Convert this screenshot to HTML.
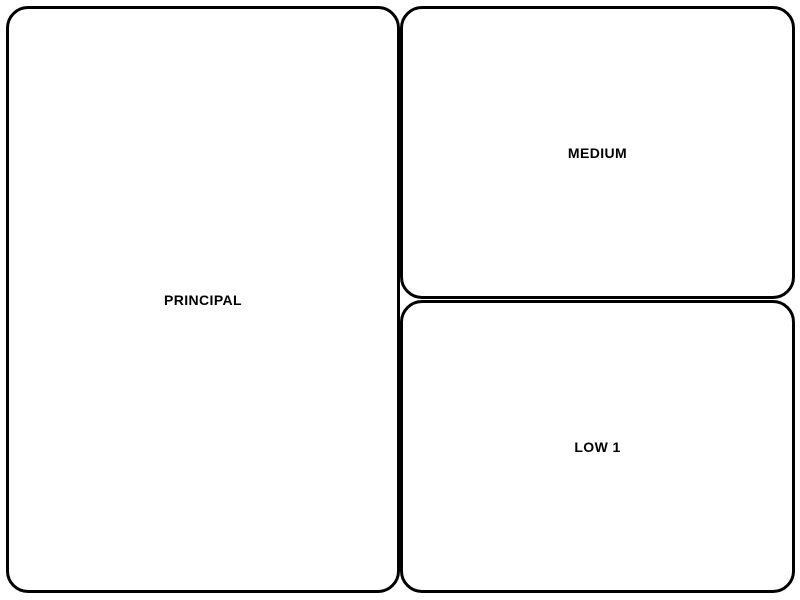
<!DOCTYPE html>
<html><head><style>
body{margin:0;width:800px;height:600px;background:#fff;position:relative;overflow:hidden;font-family:"Liberation Sans",sans-serif}
.b{position:absolute;box-sizing:border-box;border:3px solid #000;border-radius:22px;display:flex;align-items:center;justify-content:center;font-weight:bold;font-size:14px;letter-spacing:0.4px;color:#000}
</style></head><body>
<div class="b" style="left:6px;top:6px;width:394px;height:587px">PRINCIPAL</div>
<div class="b" style="left:400px;top:6px;width:395px;height:293px">MEDIUM</div>
<div class="b" style="left:400px;top:300px;width:395px;height:293px">LOW 1</div>
</body></html>
